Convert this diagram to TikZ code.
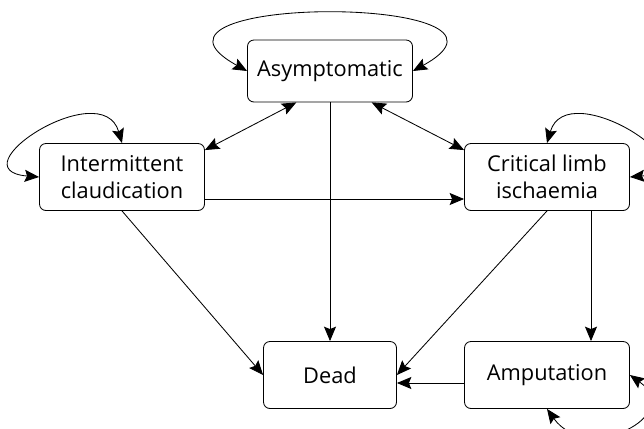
\documentclass[tikz,border=0pt]{standalone}
\usepackage{fontspec}
\setmainfont{Open Sans}
\usetikzlibrary{positioning,arrows.meta}

\begin{document}
\begin{tikzpicture}[->, >={Stealth[length=3.6mm,width=3mm,inset=0.6mm]}, line width=0.6pt, node distance=5.2cm, state node/.style={rectangle, rounded corners=1.6mm, draw, minimum width=4.125cm, minimum height=1.675cm, inner sep=0pt, align=center, font=\fontsize{15.5}{19}\selectfont}]

        \useasboundingbox (0,0) rectangle (16.1,-10.7);

        \node[state node, minimum height=1.55cm] (asym) at (8.25,-1.775) {Asymptomatic};
        \node[state node] (ic) [left of=asym, yshift=-2.65cm] {Intermittent\\claudication};
        \node[state node] (cli) [right of=asym, xshift=0.225cm, yshift=-2.65cm] {Critical limb\\ischaemia};

        \node[state node, minimum width=3.325cm] (dead) [below of=asym, yshift=-2.4cm] {Dead};
        \node[state node] (amp) [right of=dead, xshift=0.225cm] {Amputation};

        % Loops
        \draw[<->] (asym.west) .. controls +(-3.5,1.93) and +(3.5,1.93) .. (asym.east);
        \draw[<->] (ic.west) .. controls +(-2.125,0.175) and +(-0.5,1.725) .. (ic.north);
        \draw[<->] (cli.north) .. controls +(0.5,1.725) and +(2.125,0.175) .. (cli.east);
        \draw[<->] (amp.east) .. controls +(1.4,-1.0) and +(1.0,-1.4) .. (amp.south);

        % Edges
        \draw[<->] (asym.-137) -- (ic.18);
        \draw[<->] (asym.-37) -- (cli.162);
        \draw ([yshift=-0.55cm]ic.east) -- ([yshift=-0.55cm]cli.west);
        \draw ([xshift=1.1cm]cli.south) -- ([xshift=1.1cm]amp.north);
        \draw ([yshift=-0.2cm]amp.west) -- ([yshift=-0.2cm]dead.east);

        \foreach \a/\b in {asym.south/dead.north, ic.south/dead.west, cli.south/dead.east} {
            \draw (\a) -- (\b);
        }
    \end{tikzpicture}
\end{document}
